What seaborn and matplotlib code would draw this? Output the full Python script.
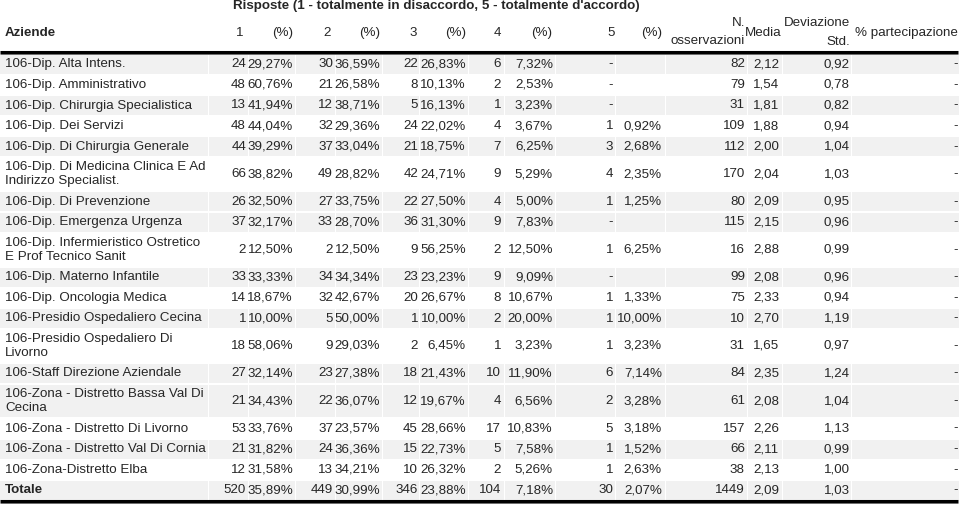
import matplotlib
matplotlib.use("Agg")
import matplotlib.pyplot as plt
import seaborn as sns

# table data
aziende = [
    "106-Dip. Alta Intens.",
    "106-Dip. Amministrativo",
    "106-Dip. Chirurgia Specialistica",
    "106-Dip. Dei Servizi",
    "106-Dip. Di Chirurgia Generale",
    "106-Dip. Di Medicina Clinica E Ad\nIndirizzo Specialist.",
    "106-Dip. Di Prevenzione",
    "106-Dip. Emergenza Urgenza",
    "106-Dip. Infermieristico Ostretico\nE Prof Tecnico Sanit",
    "106-Dip. Materno Infantile",
    "106-Dip. Oncologia Medica",
    "106-Presidio Ospedaliero Cecina",
    "106-Presidio Ospedaliero Di\nLivorno",
    "106-Staff Direzione Aziendale",
    "106-Zona - Distretto Bassa Val Di\nCecina",
    "106-Zona - Distretto Di Livorno",
    "106-Zona - Distretto Val Di Cornia",
    "106-Zona-Distretto Elba",
    "Totale",
]
r1 = [24, 48, 13, 48, 44, 66, 26, 37, 2, 33, 14, 1, 18, 27, 21, 53, 21, 12, 520]
p1 = [29.27, 60.76, 41.94, 44.04, 39.29, 38.82, 32.50, 32.17, 12.50, 33.33, 18.67,
      10.00, 58.06, 32.14, 34.43, 33.76, 31.82, 31.58, 35.89]
r2 = [30, 21, 12, 32, 37, 49, 27, 33, 2, 34, 32, 5, 9, 23, 22, 37, 24, 13, 449]
p2 = [36.59, 26.58, 38.71, 29.36, 33.04, 28.82, 33.75, 28.70, 12.50, 34.34, 42.67,
      50.00, 29.03, 27.38, 36.07, 23.57, 36.36, 34.21, 30.99]
r3 = [22, 8, 5, 24, 21, 42, 22, 36, 9, 23, 20, 1, 2, 18, 12, 45, 15, 10, 346]
p3 = [26.83, 10.13, 16.13, 22.02, 18.75, 24.71, 27.50, 31.30, 56.25, 23.23, 26.67,
      10.00, 6.45, 21.43, 19.67, 28.66, 22.73, 26.32, 23.88]
r4 = [6, 2, 1, 4, 7, 9, 4, 9, 2, 9, 8, 2, 1, 10, 4, 17, 5, 2, 104]
p4 = [7.32, 2.53, 3.23, 3.67, 6.25, 5.29, 5.00, 7.83, 12.50, 9.09, 10.67,
      20.00, 3.23, 11.90, 6.56, 10.83, 7.58, 5.26, 7.18]
r5 = [None, None, None, 1, 3, 4, 1, None, 1, None, 1, 1, 1, 6, 2, 5, 1, 1, 30]
p5 = [None, None, None, 0.92, 2.68, 2.35, 1.25, None, 6.25, None, 1.33,
      10.00, 3.23, 7.14, 3.28, 3.18, 1.52, 2.63, 2.07]
n_oss = [82, 79, 31, 109, 112, 170, 80, 115, 16, 99, 75, 10, 31, 84, 61, 157, 66, 38, 1449]
media = [2.12, 1.54, 1.81, 1.88, 2.00, 2.04, 2.09, 2.15, 2.88, 2.08, 2.33,
         2.70, 1.65, 2.35, 2.08, 2.26, 2.11, 2.13, 2.09]
dev_std = [0.92, 0.78, 0.82, 0.94, 1.04, 1.03, 0.95, 0.96, 0.99, 0.96, 0.94,
           1.19, 0.97, 1.24, 1.04, 1.13, 0.99, 1.00, 1.03]
partecipazione = ["-"] * len(aziende)
shaded = [1, 0, 1, 0, 1, 0, 1, 1, 0, 1, 0, 1, 0, 1, 1, 0, 1, 0, 1]

title = "Risposte (1 - totalmente in disaccordo, 5 - totalmente d'accordo)"

sns.set_theme(style="white")
plt.rcParams["font.family"] = ["Liberation Sans", "DejaVu Sans"]
FS = 9.6


def fmt(v, pct=False):
    if v is None:
        return ""
    s = "{:.2f}".format(v).replace(".", ",")
    return s + "%" if pct else s


fig = plt.figure(figsize=(9.6, 5.05), dpi=100)
ax = fig.add_axes([0, 0, 1, 1])
ax.set_xlim(0, 960)
ax.set_ylim(505, 0)
ax.axis("off")

# row geometry
top = 54
single_h, double_h = 20.6, 34.4
heights = [double_h if "\n" in a else single_h for a in aziende]
tops = []
y = top
for h in heights:
    tops.append(y)
    y += h
centers = [t + h / 2 for t, h in zip(tops, heights)]

# cell backgrounds (column bounds)
bounds = [0, 209, 249, 296, 336, 383, 420, 469, 505, 556, 616, 666, 748, 783, 852, 960]
for i, (c, h, s) in enumerate(zip(centers, heights, shaded)):
    if not s:
        continue
    for x0, x1 in zip(bounds[:-1], bounds[1:]):
        ax.barh(c, x1 - x0 - 1.5, left=x0, height=h - 1.5, color="#f1f1f1", linewidth=0)

# header
ax.text(436, 6, title, ha="center", va="center", fontsize=FS, fontweight="bold")
hy = 33
ax.text(5, hy, "Aziende", ha="left", va="center", fontsize=FS, fontweight="bold")
for lab, x in [("1", 240), ("2", 327), ("3", 413), ("4", 497), ("5", 611)]:
    ax.text(x, hy, lab, ha="center", va="center", fontsize=FS)
for x in [293, 380, 466, 552, 662]:
    ax.text(x, hy, "(%)", ha="right", va="center", fontsize=FS)
ax.text(745, 23, "N.", ha="right", va="center", fontsize=FS)
ax.text(745, 41, "osservazioni", ha="right", va="center", fontsize=FS)
ax.text(781, hy, "Media", ha="right", va="center", fontsize=FS)
ax.text(850, 23, "Deviazione", ha="right", va="center", fontsize=FS)
ax.text(850, 42, "Std.", ha="right", va="center", fontsize=FS)
ax.text(958, hy, "% partecipazione", ha="right", va="center", fontsize=FS)

# body
count_x = [246, 333, 418, 501, 613]
pct_x = [293, 380, 466, 553, 662]
counts = [r1, r2, r3, r4, r5]
pcts = [p1, p2, p3, p4, p5]
for i, c in enumerate(centers):
    bold = aziende[i] == "Totale"
    ax.text(5, c, aziende[i], ha="left", va="center", fontsize=FS,
            fontweight="bold" if bold else "normal", linespacing=1.2)
    for k in range(5):
        cv = counts[k][i]
        ax.text(count_x[k], c, "-" if cv is None else str(cv), ha="right", va="center", fontsize=FS)
        ax.text(pct_x[k], c, fmt(pcts[k][i], pct=True), ha="right", va="center", fontsize=FS)
    ax.text(745, c, str(n_oss[i]), ha="right", va="center", fontsize=FS)
    ax.text(779, c, fmt(media[i]), ha="right", va="center", fontsize=FS)
    ax.text(850, c, fmt(dev_std[i]), ha="right", va="center", fontsize=FS)
    ax.text(958, c, partecipazione[i], ha="right", va="center", fontsize=FS)

# rules
ax.plot([0, 958], [51.5, 51.5], color="black", linewidth=2.2, solid_capstyle="butt")
ax.plot([0, 958], [54, 54], color="#555555", linewidth=0.6, solid_capstyle="butt")
bottom = tops[-1] + heights[-1]
ax.plot([0, 958], [bottom, bottom], color="black", linewidth=2.2, solid_capstyle="butt")
ax.plot([0, 958], [bottom + 2.5, bottom + 2.5], color="#555555", linewidth=0.6, solid_capstyle="butt")

fig.savefig("out.png", dpi=100)
plt.close(fig)
